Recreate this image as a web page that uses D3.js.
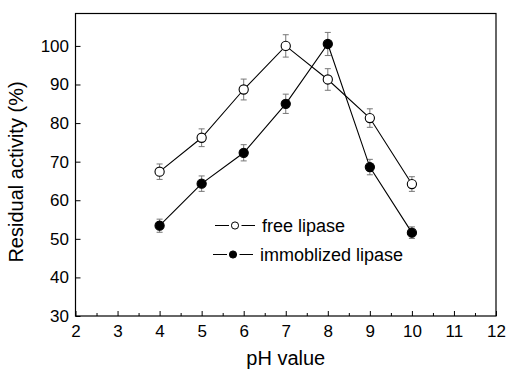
<!DOCTYPE html>
<html>
<head>
<meta charset="utf-8">
<script src="https://cdn.jsdelivr.net/npm/d3@7"></script>
<style>
  body { margin: 0; background: #fff; }
  svg { display: block; font-family: "Liberation Sans", Arial, sans-serif; }
</style>
</head>
<body>
<svg width="507" height="371"></svg>
<script>
// values
var phValues = [4, 5, 6, 7, 8, 9, 10];
var freeLipase = [67.4, 76.2, 88.7, 100.0, 91.3, 81.3, 64.2];
var freeErr = [2.0, 2.3, 2.7, 2.9, 2.8, 2.4, 1.9];
var immobLipase = [53.4, 64.3, 72.3, 85.0, 100.5, 68.6, 51.6];
var immobErr = [1.7, 2.0, 2.1, 2.5, 3.0, 2.0, 1.5];
var xTicks = [2, 3, 4, 5, 6, 7, 8, 9, 10, 11, 12];
var xMinor = [2.5, 3.5, 4.5, 5.5, 6.5, 7.5, 8.5, 9.5, 10.5, 11.5];
var yTicks = [30, 40, 50, 60, 70, 80, 90, 100];
var seriesNames = ["free lipase", "immoblized lipase"];

var svg = d3.select("svg");
// plot box (window.top is reserved, so own names)
var pLeft = 75.5, pTop = 13.5, pRight = 496, pBottom = 316;

var x = d3.scaleLinear().domain([2, 12]).range([pLeft, pRight]);
var y = d3.scaleLinear().domain([30, 108.4]).range([pBottom, pTop]);

// minor x ticks
svg.append("g")
  .attr("transform", "translate(0," + pBottom + ")")
  .call(d3.axisBottom(x).tickValues(xMinor).tickSize(-3).tickFormat(""))
  .call(function(g){ g.select(".domain").remove(); });

// major x axis
var gx = svg.append("g")
  .attr("transform", "translate(0," + pBottom + ")")
  .call(d3.axisBottom(x).tickValues(xTicks).tickSize(-5).tickPadding(8.5).tickFormat(d3.format("d")));
gx.select(".domain").remove();
gx.selectAll("text").attr("font-size", 17).attr("fill", "#000");

var gy = svg.append("g")
  .attr("transform", "translate(" + pLeft + ",0)")
  .call(d3.axisLeft(y).tickValues(yTicks).tickSize(-5).tickPadding(6.5));
gy.select(".domain").remove();
gy.selectAll("text").attr("font-size", 17).attr("fill", "#000");

svg.selectAll(".tick line").attr("stroke", "#000");

// frame
svg.append("rect")
  .attr("x", pLeft).attr("y", pTop)
  .attr("width", pRight - pLeft).attr("height", pBottom - pTop)
  .attr("fill", "none").attr("stroke", "#000").attr("stroke-width", 1.2);

// axis titles
svg.append("text")
  .attr("x", (pLeft + pRight) / 2).attr("y", 365)
  .attr("text-anchor", "middle").attr("font-size", 20)
  .text("pH value");
svg.append("text")
  .attr("transform", "translate(23,172) rotate(-90)")
  .attr("text-anchor", "middle").attr("font-size", 20)
  .text("Residual activity (%)");

var line = d3.line().x(function(d){ return x(d[0]); }).y(function(d){ return y(d[1]); });

function drawSeries(vals, errs, fill){
  var pts = phValues.map(function(p, i){ return [p, vals[i], errs[i]]; });
  var g = svg.append("g");
  // error bars
  var eb = g.selectAll(".eb").data(pts).enter().append("g").attr("stroke", "#777").attr("stroke-width", 1);
  eb.append("line")
    .attr("x1", function(d){ return x(d[0]); }).attr("x2", function(d){ return x(d[0]); })
    .attr("y1", function(d){ return y(d[1] + d[2]); }).attr("y2", function(d){ return y(d[1] - d[2]); });
  eb.append("line")
    .attr("x1", function(d){ return x(d[0]) - 3; }).attr("x2", function(d){ return x(d[0]) + 3; })
    .attr("y1", function(d){ return y(d[1] + d[2]); }).attr("y2", function(d){ return y(d[1] + d[2]); });
  eb.append("line")
    .attr("x1", function(d){ return x(d[0]) - 3; }).attr("x2", function(d){ return x(d[0]) + 3; })
    .attr("y1", function(d){ return y(d[1] - d[2]); }).attr("y2", function(d){ return y(d[1] - d[2]); });
  g.append("path")
    .attr("d", line(pts))
    .attr("fill", "none").attr("stroke", "#000").attr("stroke-width", 1.1);
  g.selectAll("circle").data(pts).enter().append("circle")
    .attr("cx", function(d){ return x(d[0]); })
    .attr("cy", function(d){ return y(d[1]); })
    .attr("r", 4.6)
    .attr("fill", fill).attr("stroke", "#000").attr("stroke-width", 1.1);
}

drawSeries(freeLipase, freeErr, "#fff");
drawSeries(immobLipase, immobErr, "#000");

// legend
var legRows = [
  {name: seriesNames[0], fill: "#fff", y: 225.5, x0: 215},
  {name: seriesNames[1], fill: "#000", y: 254.5, x0: 213}
];
legRows.forEach(function(r){
  var g = svg.append("g");
  g.append("line").attr("x1", r.x0).attr("x2", r.x0 + 40).attr("y1", r.y).attr("y2", r.y)
    .attr("stroke", "#000").attr("stroke-width", 1.1);
  g.append("circle").attr("cx", r.x0 + 20).attr("cy", r.y).attr("r", 3.6)
    .attr("fill", r.fill).attr("stroke", "#000").attr("stroke-width", 1);
  g.append("rect").attr("x", r.x0 + 14).attr("y", r.y - 2).attr("width", 2).attr("height", 4).attr("fill", "#fff");
  g.append("rect").attr("x", r.x0 + 24).attr("y", r.y - 2).attr("width", 2.5).attr("height", 4).attr("fill", "#fff");
  g.append("text").attr("x", r.x0 + 47).attr("y", r.y).attr("dy", "0.35em")
    .attr("font-size", 18).text(r.name);
});
</script>
</body>
</html>
